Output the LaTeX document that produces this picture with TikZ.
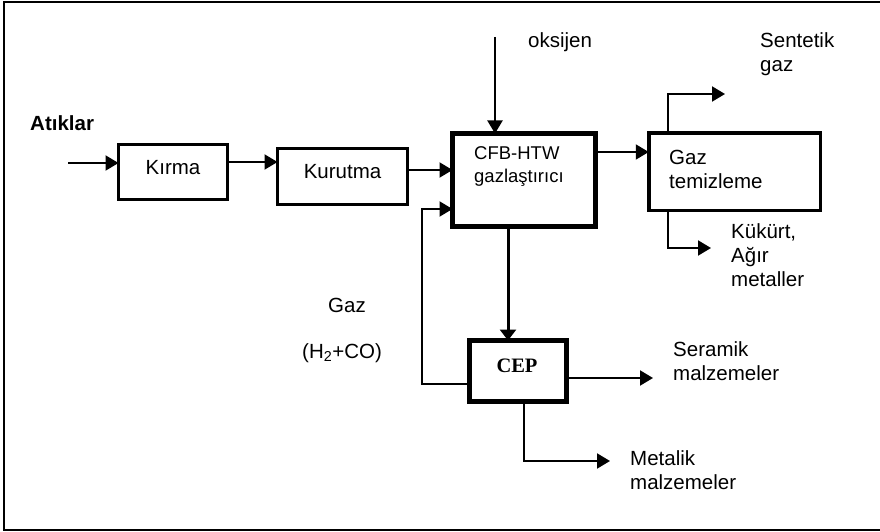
\documentclass[tikz,border=0pt]{standalone}
\usepackage{fontspec}
\setmainfont{Liberation Sans}
\newfontfamily\serifbold{Liberation Serif}[BoldFont={* Bold}]
\usetikzlibrary{arrows.meta}
\begin{document}
\begin{tikzpicture}[x=1pt,y=-1pt,
  txt/.style={font=\fontsize{20.5}{24}\selectfont, inner sep=0pt, align=left},
  smalltxt/.style={font=\fontsize{18.5}{23}\selectfont, inner sep=0pt, align=left},
  unit/.style={draw, line width=3pt, inner sep=0pt, outer sep=0pt},
  bigunit/.style={draw, line width=5pt, inner sep=0pt, outer sep=0pt},
  flow/.style={line width=2pt, -{Triangle[length=13pt,width=15pt]}},
  thickflow/.style={line width=3pt, -{Triangle[length=11pt,width=16pt]}}]
\useasboundingbox (0,0) rectangle (880,532);
% outer frame
\draw[line width=2pt] (4,2.5) rectangle (900,530);

% process units
\node[unit, minimum width=109pt, minimum height=55pt] (kirma) at (173,172) {};
\node[txt] (kirmaT) at (173,168) {Kırma};
\node[unit, minimum width=130pt, minimum height=56pt] (kurutma) at (342.5,176.5) {};
\node[txt] (kurutmaT) at (342.5,172) {Kurutma};
\node[bigunit, minimum width=143pt, minimum height=93pt] (cfb) at (524,180) {};
\node[smalltxt, anchor=west] (cfbT) at (474,166.5) {CFB-HTW\\gazlaştırıcı};
\node[draw, line width=3.5pt, inner sep=0pt, outer sep=0pt, minimum width=171.5pt, minimum height=77.5pt] (gaz) at (734.5,171.5) {};
\node[txt, anchor=west] (gazT) at (669,169.5) {Gaz\\temizleme};
\node[bigunit, minimum width=97pt, minimum height=61pt] (cep) at (518,371) {};
\node[inner sep=0pt, font=\serifbold\bfseries\fontsize{20.5}{24}\selectfont] (cepT) at (517,366) {CEP};

% labels
\node[txt, font=\bfseries\fontsize{20.5}{24}\selectfont, anchor=west] (atik) at (30,123) {Atıklar};
\node[txt, anchor=west] (oks) at (528,42) {oksijen};
\node[txt, anchor=west] (sent) at (760,54) {Sentetik\\gaz};
\node[txt, anchor=west] (kuk) at (731,255) {Kükürt,\\Ağır\\metaller};
\node[txt, anchor=west] (ser) at (673,361.5) {Seramik\\malzemeler};
\node[txt, anchor=west] (met) at (630,470) {Metalik\\malzemeler};
\node[txt] (gazL) at (347,305) {Gaz};
\node[txt] (h2co) at (342,353) {(H\textsubscript{2}+CO)};

% free ends of the streams
\coordinate (inStart) at (68,163);
\coordinate (oksStart) at (495,37);
\coordinate (sentEnd) at (725,94);
\coordinate (kukEnd) at (711,248);
\coordinate (serEnd) at (653,378);
\coordinate (metEnd) at (610,461);
\coordinate (loopX) at (422,0);

% main line
\draw[flow] (inStart) -- (inStart -| kirma.west);
\draw[flow] (kirma.east |- 0,162) -- (kurutma.west |- 0,162);
\draw[flow] (kurutma.east |- 0,170) -- (cfb.west |- 0,170);
\draw[flow] (oksStart) -- (oksStart |- cfb.north);
\draw[flow] (cfb.east |- 0,152) -- (gaz.west |- 0,152);
\draw[thickflow] (cfb.south -| 508,0) -- (cep.north -| 508,0);

% gas cleaning outputs
\draw[flow] (gaz.north -| 668,0) -- (668,94) -- (sentEnd);
\draw[flow] (gaz.south -| 668,0) -- (668,248) -- (kukEnd);

% CEP outputs
\draw[flow] (cep.east |- serEnd) -- (serEnd);
\draw[flow] (cep.south -| 524,0) -- (524,461) -- (metEnd);

% recycled gas back to the gasifier
\draw[flow] (cep.west |- 0,384) -- (loopX |- 0,384) -- (loopX |- 0,209) -- (cfb.west |- 0,209);
\end{tikzpicture}
\end{document}
